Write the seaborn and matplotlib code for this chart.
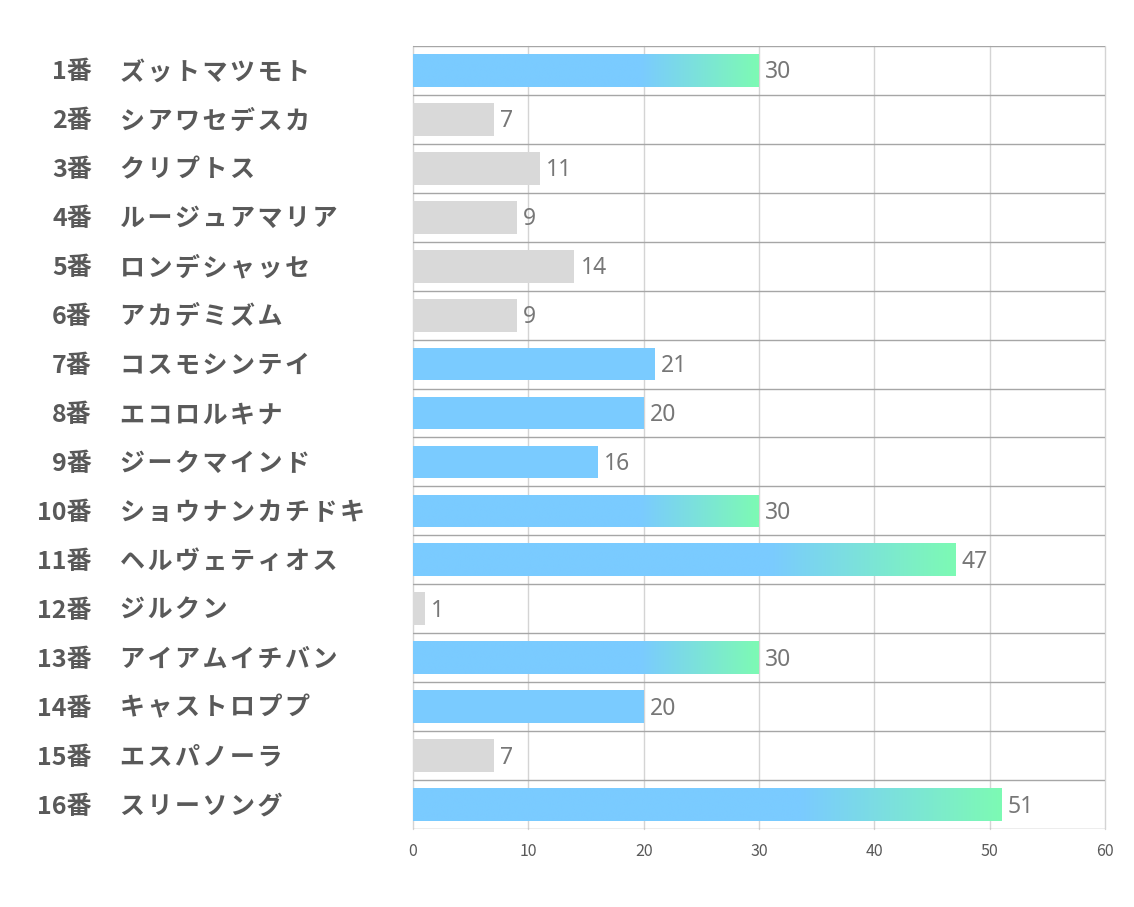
import numpy as np
import pandas as pd
import matplotlib
matplotlib.use("Agg")
import matplotlib.pyplot as plt
import matplotlib.transforms as mtransforms
from matplotlib.colors import LinearSegmentedColormap
import seaborn as sns

numbers = ["1番", "2番", "3番", "4番", "5番", "6番", "7番", "8番",
           "9番", "10番", "11番", "12番", "13番", "14番", "15番", "16番"]
names = ["ズットマツモト", "シアワセデスカ", "クリプトス", "ルージュアマリア",
         "ロンデシャッセ", "アカデミズム", "コスモシンテイ", "エコロルキナ",
         "ジークマインド", "ショウナンカチドキ", "ヘルヴェティオス", "ジルクン",
         "アイアムイチバン", "キャストロププ", "エスパノーラ", "スリーソング"]
values = [30, 7, 11, 9, 14, 9, 21, 20, 16, 30, 47, 1, 30, 20, 7, 51]
x_ticks = [0, 10, 20, 30, 40, 50, 60]

sns.set_theme(style="white")
plt.rcParams['font.family'] = ['Noto Sans CJK JP', 'DejaVu Sans']

BLUE = "#7acbff"
GREEN = "#7dfab4"
GRAY = "#d9d9d9"

def bar_color(v):
    return GRAY if v < 16 else BLUE

df = pd.DataFrame({"label": [f"{n} {m}" for n, m in zip(numbers, names)],
                   "value": values})
palette = [bar_color(v) for v in values]

fig = plt.figure(figsize=(11.34, 9.07), dpi=100)
ax = fig.add_axes([0.3642, 0.0860, 0.9744 - 0.3642, 0.9493 - 0.0860])

sns.barplot(data=df, x="value", y="label", hue="label", palette=palette,
            legend=False, ax=ax, width=0.67, saturation=1, orient="h")

ax.set_xlim(0, 60)
ax.set_ylim(len(values) - 0.5, -0.5)
ax.set_xticks(x_ticks)
ax.set_xticklabels([str(t) for t in x_ticks], fontsize=11.5, color="#595959")
ax.tick_params(axis="x", length=0, pad=10)
ax.set_yticks([])
ax.set_xlabel("")
ax.set_ylabel("")
for s in ax.spines.values():
    s.set_visible(False)

# grid
for t in x_ticks:
    ax.axvline(t, color="#d4d4d4", lw=1, zorder=0.5, clip_on=False)
for i in range(len(values) + 1):
    ax.axhline(i - 0.5, color="#a6a6a6", lw=1, zorder=0.6)

# gradients for top bars
cmap = LinearSegmentedColormap.from_list("g", [(0, BLUE), (0.66, BLUE), (1, GREEN)])
grad = np.linspace(0, 1, 256).reshape(1, -1)
patches = [p for p in ax.patches]
for p in patches:
    w = p.get_width()
    y0 = p.get_y()
    h = p.get_height()
    if w >= 30:
        im = ax.imshow(grad, cmap=cmap, aspect="auto",
                       extent=[p.get_x(), p.get_x() + w, y0 + h, y0],
                       zorder=p.get_zorder() + 0.1, interpolation="bilinear")
        im.set_clip_path(p)
    p.set_edgecolor("none")

ax.set_xlim(0, 60)
ax.set_ylim(len(values) - 0.5, -0.5)

# value labels
offset = mtransforms.offset_copy(ax.transData, fig=fig, x=6, y=-2, units="dots")
for i, v in enumerate(values):
    ax.text(v, i, str(v), transform=offset, ha="left", va="center",
            fontsize=16.5, color="#777777", family=['Noto Sans', 'DejaVu Sans'])

# category labels
trans = mtransforms.offset_copy(
    mtransforms.blended_transform_factory(ax.transAxes, ax.transData),
    fig=fig, x=0, y=-2, units="dots")
HS = "\u200a"
for i, (n, m) in enumerate(zip(numbers, names)):
    ax.text(-0.4639, i, n, transform=trans, ha="right", va="center",
            fontsize=18, fontweight="bold", color="#595959")
    ax.text(-0.4234, i, HS.join(m), transform=trans, ha="left", va="center",
            fontsize=18, fontweight="bold", color="#595959")

fig.savefig("out.png", dpi=100, facecolor="white")
